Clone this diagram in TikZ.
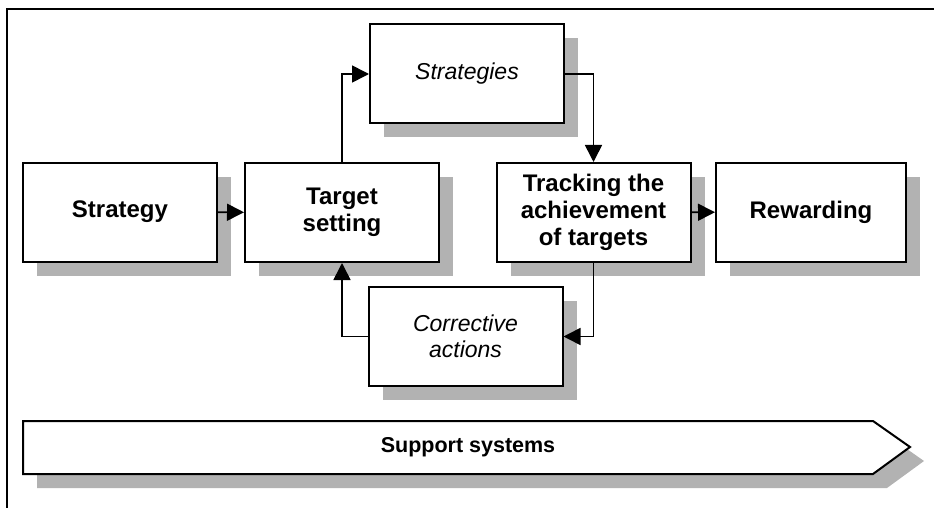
\documentclass[tikz,border=0pt]{standalone}
\usepackage{fontspec}
\setmainfont{Liberation Sans}
\usetikzlibrary{arrows.meta,shadows}
\definecolor{shadegray}{RGB}{178,178,178}

\tikzset{
	stage/.style={draw, line width=2pt, fill=white,
		minimum width=194pt, minimum height=99pt, align=center,
		font=\bfseries\fontsize{24}{27}\selectfont,
		drop shadow={shadow xshift=14pt, shadow yshift=-14pt, fill=shadegray, opacity=1}},
	task/.style={stage, font=\itshape\fontsize{23}{26}\selectfont},
	flow/.style={line width=1.6pt, -{Triangle[length=17pt,width=17pt]}}
}

\begin{document}
\begin{tikzpicture}[x=1pt,y=-1pt]
	\useasboundingbox (0,0) rectangle (934,508);
	% frame
	\draw[line width=2pt] (934,9) -- (7,9) -- (7,508);
	% main chain
	\node[stage] (strategy) at (120,212) {Strategy};
	\node[stage] (target) at (342,212.5) {Target\\setting};
	\node[task] (strategies) at (467,74) {Strategies};
	\node[stage] (tracking) at (593.5,212.5) {Tracking the\\achievement\\of targets};
	\node[stage, minimum width=190pt] (reward) at (811,212) {Rewarding};
	\node[task] (corrective) at (465.5,336.5) {Corrective\\actions};
	% connectors
	\draw[flow] (strategy) -- (target);
	\draw[flow] (target.north) |- (strategies.west);
	\draw[flow] (strategies.east) -| (tracking.north);
	\draw[flow] (tracking) -- (reward);
	\draw[flow] (tracking.south) |- (corrective.east);
	\draw[flow] (corrective.west) -| (target.south);
	% support systems
	\fill[shadegray] (37,435) -- (887,435) -- (924,461) -- (887,488) -- (37,488) -- cycle;
	\draw[line width=2pt, fill=white] (23,421) -- (873,421) -- (910,447) -- (873,474) -- (23,474) -- cycle;
	\node[font=\bfseries\fontsize{21.5}{24}\selectfont] (support) at (468,447) {Support systems};
\end{tikzpicture}
\end{document}
